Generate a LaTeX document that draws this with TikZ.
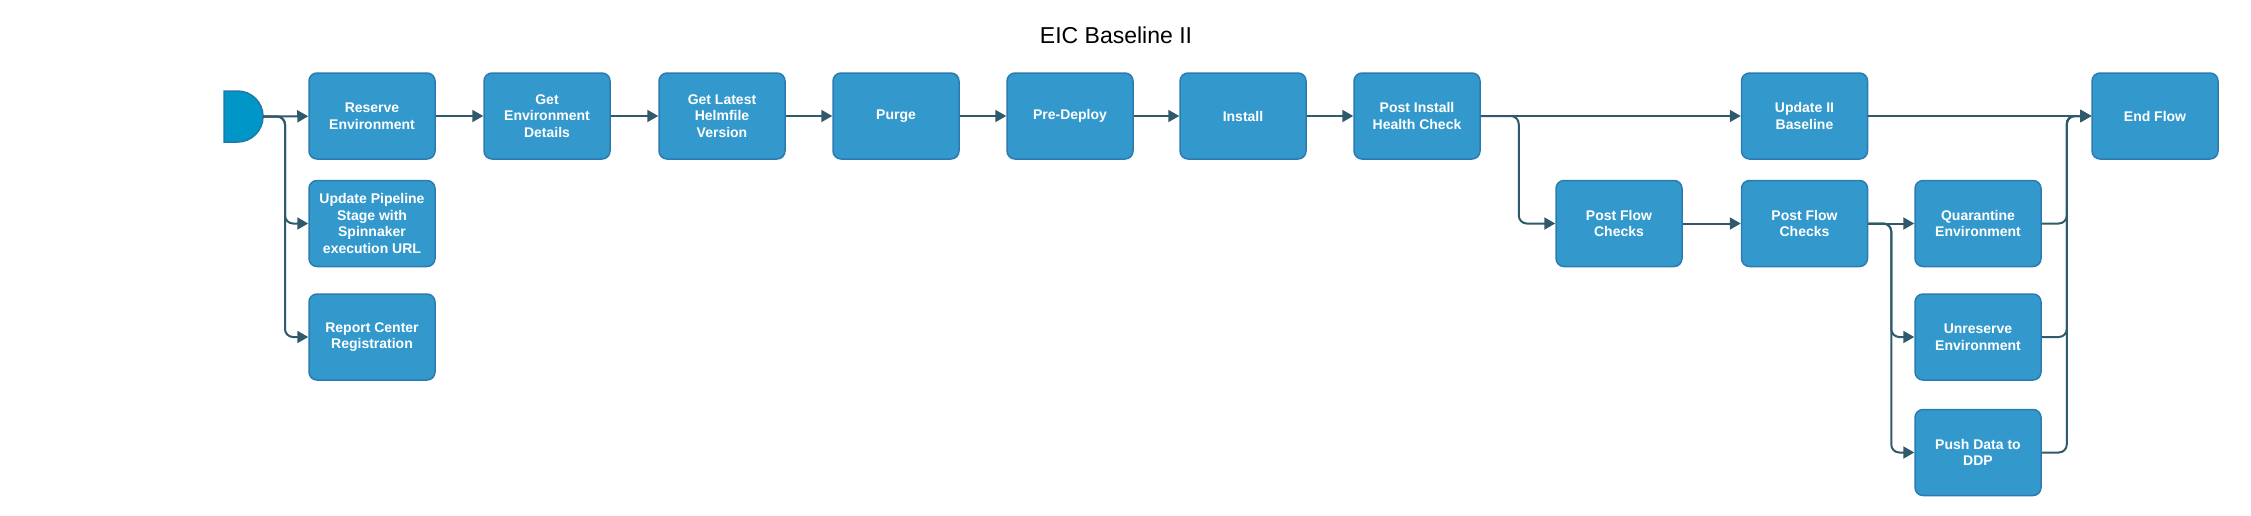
\documentclass[tikz,border=0pt]{standalone}
\usepackage{fontspec}
\setmainfont{Liberation Sans}
\usepackage{xcolor}
\usetikzlibrary{arrows.meta}

\definecolor{boxfill}{HTML}{3399CC}
\definecolor{boxline}{HTML}{2B7BB0}
\definecolor{startfill}{HTML}{0096C8}
\definecolor{startline}{HTML}{1F78A8}
\definecolor{wire}{HTML}{2F5A6B}

\begin{document}
\begin{tikzpicture}[x=1pt,y=-1pt,
    stage/.style={draw=boxline,line width=1.5pt,fill=boxfill,rounded corners=8pt,
      minimum width=126pt,minimum height=86pt,align=center,text=white,
      font=\bfseries\fontsize{14}{16.5}\selectfont},
    conn/.style={draw=wire,line width=2pt,rounded corners=8pt,
      -{Triangle[length=11pt,width=12pt]}}]
    \useasboundingbox (0,0) rectangle (2251,515);
    \node at (1116,35) {\fontsize{23}{27}\selectfont EIC Baseline II};
    % start shape
    \draw[startline,line width=1.5pt,fill=startfill] (224,91) -- (237.5,91)
      arc[start angle=-90,end angle=90,radius=25.5] -- (224,142) -- cycle;
    \coordinate (start) at (263,116.5);
    % top row
    \node[stage] (reserve) at (372,116) {Reserve\\Environment};
    \node[stage] (getenv) at (547,116) {Get\\Environment\\Details};
    \node[stage] (helm) at (722,116) {Get Latest\\Helmfile\\Version};
    \node[stage] (purge) at (896,116) {Purge};
    \node[stage] (predeploy) at (1070,116) {Pre-Deploy};
    \node[stage] (install) at (1243,116) {Install};
    \node[stage] (health) at (1417,116) {Post Install\\Health Check};
    \node[stage] (baseline) at (1804.5,116) {Update II\\Baseline};
    \node[stage] (endflow) at (2155,116) {End Flow};
    % side branches
    \node[stage] (pipeline) at (372,223.5) {Update Pipeline\\Stage with\\Spinnaker\\execution URL};
    \node[stage] (report) at (372,337) {Report Center\\Registration};
    \node[stage] (check1) at (1619,223.5) {Post Flow\\Checks};
    \node[stage] (check2) at (1804.5,223.5) {Post Flow\\Checks};
    \node[stage] (quarantine) at (1978,223.5) {Quarantine\\Environment};
    \node[stage] (unreserve) at (1978,337) {Unreserve\\Environment};
    \node[stage] (ddp) at (1978,452.5) {Push Data to\\DDP};
    % connectors
    \draw[conn] (start) -- (reserve);
    \draw[conn] (start) -- ++(22,0) |- (pipeline);
    \draw[conn] (start) -- ++(22,0) |- (report);
    \draw[conn] (reserve) -- (getenv);
    \draw[conn] (getenv) -- (helm);
    \draw[conn] (helm) -- (purge);
    \draw[conn] (purge) -- (predeploy);
    \draw[conn] (predeploy) -- (install);
    \draw[conn] (install) -- (health);
    \draw[conn] (health) -- (baseline);
    \draw[conn] (health.east) -- ++(38,0) |- (check1);
    \draw[conn] (check1) -- (check2);
    \draw[conn] (check2) -- (quarantine);
    \draw[conn] (check2.east) -- ++(23,0) |- (unreserve);
    \draw[conn] (check2.east) -- ++(23,0) |- (ddp);
    \draw[conn] (baseline) -- (endflow);
    \draw[conn] (quarantine.east) -- ++(25,0) |- (endflow);
    \draw[conn] (unreserve.east) -- ++(25,0) |- (endflow);
    \draw[conn] (ddp.east) -- ++(25,0) |- (endflow);
\end{tikzpicture}
\end{document}
